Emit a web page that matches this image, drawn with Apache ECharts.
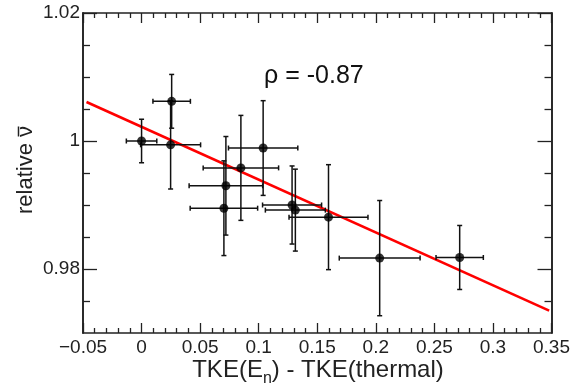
<!DOCTYPE html>
<html>
<head>
<meta charset="utf-8">
<script src="https://cdn.jsdelivr.net/npm/echarts@6/dist/echarts.min.js"></script>
<style>
  html, body { margin: 0; padding: 0; background: #fff; }
  #chart { width: 573px; height: 389px; }
</style>
</head>
<body>
<div id="chart"></div>
<script>
// Measured points: energy-dependent TKE shift vs. relative neutron multiplicity
const tkeShift   = [0.000, 0.0257, 0.0248, 0.1038, 0.0848, 0.0720, 0.0703, 0.1285, 0.1313, 0.1596, 0.2033, 0.2716];
const relNu      = [1.0000, 1.0062, 0.9994, 0.9989, 0.9958, 0.9930, 0.9895, 0.9900, 0.9892, 0.9881, 0.9817, 0.9818];
const tkeShiftErr = [0.013, 0.016, 0.0256, 0.0296, 0.0322, 0.0314, 0.0288, 0.0252, 0.0256, 0.0337, 0.0345, 0.0202];
const relNuErr   = [0.0034, 0.0042, 0.0069, 0.0074, 0.0082, 0.0077, 0.0074, 0.0061, 0.0064, 0.0082, 0.0090, 0.0050];

// Linear fit end points
const fitX = [-0.047, 0.348];
const fitY = [1.0061, 0.9735];

// Axis tick positions
const yLabelTicks = [0.98, 1.0, 1.02];
const yMinorTicks = [0.975, 0.985, 0.99, 0.995, 1.005, 1.01, 1.015];
const correlationText = 'ρ = -0.87';

const FONT = '"Liberation Sans", Arial, sans-serif';
const INK = '#222';

const chart = echarts.init(document.getElementById('chart'), null, { renderer: 'canvas' });

const errData = tkeShift.map((x, i) => [x, relNu[i], tkeShiftErr[i], relNuErr[i]]);
const pts = tkeShift.map((x, i) => [x, relNu[i]]);
const fitLine = fitX.map((x, i) => [x, fitY[i]]);

function fmtX(v) {
  const r = Math.round(v * 100) / 100;
  return String(r).replace('-', '\u2212');
}
function fmtY(v) {
  const r = Math.round(v * 100) / 100;
  return String(r);
}

// Y-axis title: "relative ν" with a bar drawn over the ν
const yTitleSize = 22;
const measureCtx = document.createElement('canvas').getContext('2d');
measureCtx.font = yTitleSize + 'px ' + FONT;
const wHead = measureCtx.measureText('relative ').width;
const wNu = measureCtx.measureText('ν').width;
const wAll = wHead + wNu;
const barStart = -wAll / 2 + wHead + 0.5;
const barEnd = wAll / 2 - 0.5;

const grid = { left: 83, right: 21, top: 13, bottom: 56 };

function xAx(pos, opts) {
  return Object.assign({
    type: 'value', position: pos, min: -0.05, max: 0.35, interval: 0.05,
    axisLine: { show: true, onZero: false, lineStyle: { color: INK, width: 1.6 } },
    axisTick: { show: true, inside: true, length: 10, lineStyle: { color: INK, width: 1.3 } },
    minorTick: { show: true, splitNumber: 5, length: 5, lineStyle: { color: INK, width: 1.3 } },
    axisLabel: { show: false },
    splitLine: { show: false }
  }, opts || {});
}

function yAx(pos, ticks, len, label) {
  return {
    type: 'value', position: pos, min: 0.97, max: 1.02,
    axisLine: { show: true, onZero: false, lineStyle: { color: INK, width: 1.6 } },
    axisTick: { show: true, inside: true, length: len, customValues: ticks, lineStyle: { color: INK, width: 1.3 } },
    axisLabel: label ? {
      show: true, customValues: yLabelTicks, formatter: fmtY, margin: 3,
      fontFamily: FONT, fontSize: 19, color: INK
    } : { show: false },
    splitLine: { show: false }
  };
}

const option = {
  backgroundColor: '#fff',
  animation: false,
  grid: grid,
  xAxis: [
    xAx('bottom', {
      axisLabel: { show: true, formatter: fmtX, margin: 5, fontFamily: FONT, fontSize: 19, color: INK }
    }),
    xAx('top')
  ],
  yAxis: [
    yAx('left', yMinorTicks, 7, true),
    yAx('left', yLabelTicks, 14, false),
    yAx('right', yMinorTicks, 7, false),
    yAx('right', yLabelTicks, 14, false)
  ],
  series: [
    {
      type: 'line',
      data: fitLine,
      showSymbol: false,
      lineStyle: { color: '#ff0000', width: 2.6 },
      z: 3
    },
    {
      type: 'custom',
      data: errData,
      encode: { x: 0, y: 1 },
      renderItem: function (params, api) {
        const x = api.value(0), y = api.value(1), ex = api.value(2), ey = api.value(3);
        const l = api.coord([x - ex, y]);
        const r = api.coord([x + ex, y]);
        const t = api.coord([x, y + ey]);
        const b = api.coord([x, y - ey]);
        const c = 2.5;
        const st = { stroke: '#111', lineWidth: 1.5 };
        const seg = (x1, y1, x2, y2) => ({ type: 'line', shape: { x1, y1, x2, y2 }, style: st });
        return {
          type: 'group',
          children: [
            seg(l[0], l[1], r[0], r[1]),
            seg(t[0], t[1], b[0], b[1]),
            seg(l[0], l[1] - c, l[0], l[1] + c),
            seg(r[0], r[1] - c, r[0], r[1] + c),
            seg(t[0] - c, t[1], t[0] + c, t[1]),
            seg(b[0] - c, b[1], b[0] + c, b[1])
          ]
        };
      },
      z: 4
    },
    {
      type: 'scatter',
      data: pts,
      symbol: 'circle',
      symbolSize: 9,
      itemStyle: { color: '#000' },
      z: 5
    }
  ],
  graphic: [
    {
      type: 'text',
      left: 264, top: 64,
      style: { text: correlationText, fontFamily: FONT, fontSize: 25, fill: '#111' }
    },
    {
      type: 'group',
      x: 26, y: 170, rotation: Math.PI / 2,
      children: [
        {
          type: 'text',
          x: 0, y: 0,
          style: {
            text: 'relative ν', fontFamily: FONT, fontSize: yTitleSize, fill: INK,
            align: 'center', verticalAlign: 'middle'
          }
        },
        {
          type: 'line',
          shape: { x1: barStart, y1: -7.5, x2: barEnd, y2: -7.5 },
          style: { stroke: INK, lineWidth: 1.5 }
        }
      ]
    },
    {
      type: 'text',
      x: 318, y: 370,
      style: {
        text: '{a|TKE(E}{s|n}{a|) - TKE(thermal)}',
        align: 'center', verticalAlign: 'middle',
        rich: {
          a: { fontFamily: FONT, fontSize: 24, fill: INK, color: INK },
          s: { fontFamily: FONT, fontSize: 16, fill: INK, color: INK, padding: [18, 0, 0, 0] }
        }
      }
    }
  ]
};

chart.setOption(option);
</script>
</body>
</html>
